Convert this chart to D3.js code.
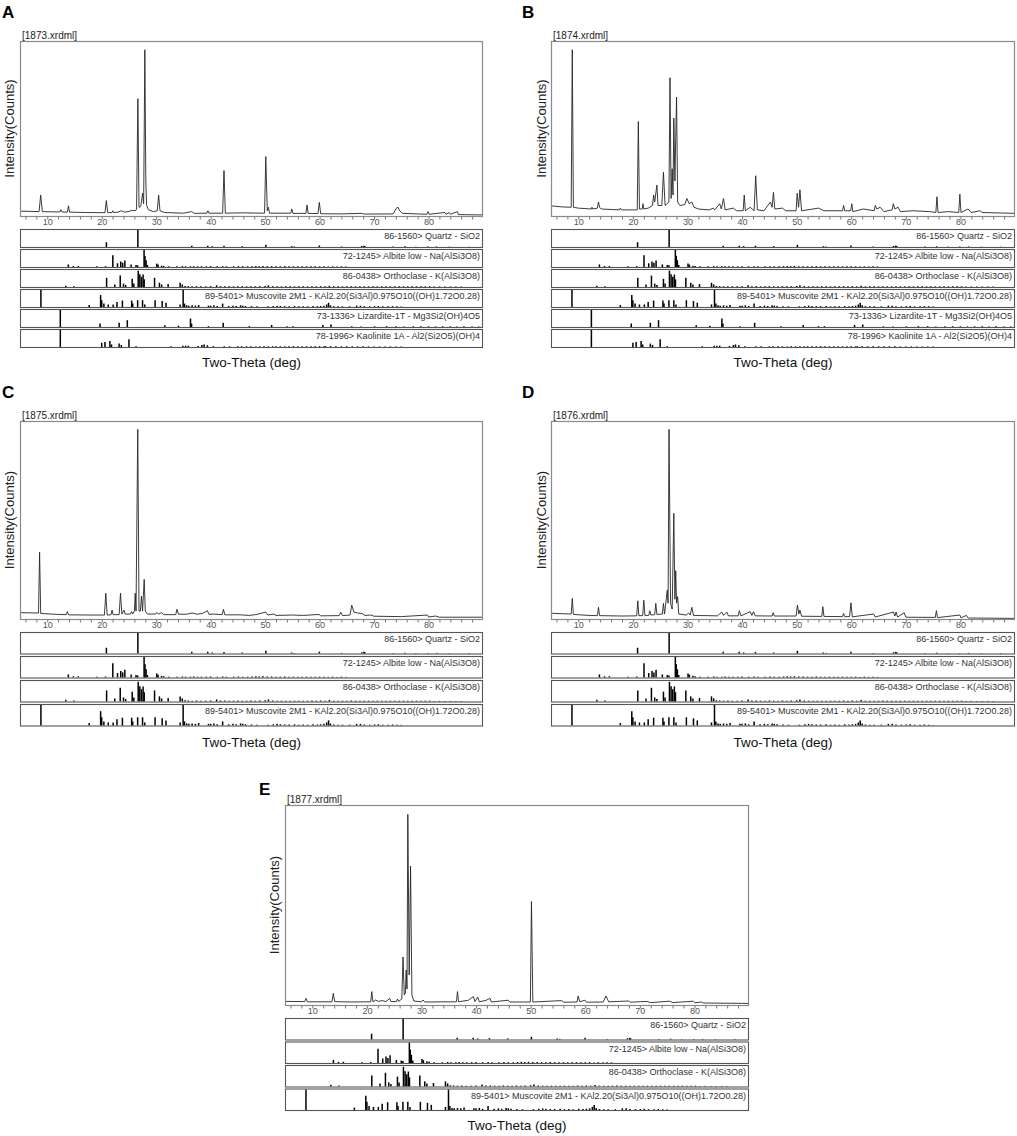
<!DOCTYPE html>
<html><head><meta charset="utf-8">
<script src="https://cdn.jsdelivr.net/npm/d3@7"></script>
<style>
body{margin:0;background:#fff}
svg text{font-family:"Liberation Sans",Arial,sans-serif}
</style>
</head><body>
<svg id="c" width="1017" height="1136"></svg>
<script>
// ---------- DATA ----------
const twoThetaDomain = [5, 90];
const twoThetaLabels = [10, 20, 30, 40, 50, 60, 70, 80];
const fileNames = ["[1873.xrdml]", "[1874.xrdml]", "[1875.xrdml]", "[1876.xrdml]", "[1877.xrdml]"];
const panelLetters = ["A", "B", "C", "D", "E"];
const xTitle = "Two-Theta (deg)";
const yTitle = "Intensity(Counts)";

const phaseLabels = {
  quartz: "86-1560> Quartz - SiO2",
  albite: "72-1245> Albite low - Na(AlSi3O8)",
  orthoclase: "86-0438> Orthoclase - K(AlSi3O8)",
  muscovite: "89-5401> Muscovite 2M1 - KAl2.20(Si3Al)0.975O10((OH)1.72O0.28)",
  lizardite: "73-1336> Lizardite-1T - Mg3Si2(OH)4O5",
  kaolinite: "78-1996> Kaolinite 1A - Al2(Si2O5)(OH)4"
};

// measured patterns: [2theta, relative intensity %]
const pattern1873 = [[5,2.8],[8.5,2.5],[8.8,12],[9.1,2.5],[12.3,2.3],[12.5,3.6],[12.7,2.3],[13.7,2.2],[13.9,5.8],[14.1,2.2],[17,2],[20.6,1.9],[20.85,8.8],[21.1,1.9],[21.9,2],[22.05,3],[22.2,2],[23,2.2],[23.6,3],[24.2,2.2],[25,2.6],[25.5,3.2],[26.2,3],[26.4,4],[26.64,67],[26.85,5],[27.0,5],[27.2,6],[27.5,13],[27.7,7],[27.92,95],[28.1,20],[28.25,6],[28.6,3.5],[29.5,2.5],[30.2,3],[30.45,12],[30.7,3],[31.5,2],[35,1.6],[36.5,2.5],[37,1.5],[39.3,1.6],[39.5,3],[39.7,1.6],[42.2,1.6],[42.45,26],[42.7,1.6],[45.8,1.8],[49.9,1.6],[50.12,34],[50.4,3],[50.6,5],[50.8,1.6],[54.7,1.6],[54.9,4],[55.1,1.5],[57.5,1.5],[57.7,6.3],[57.9,1.5],[59.7,1.4],[59.95,7.8],[60.2,1.3],[64,1.2],[67.7,1.5],[68.2,1.1],[73.5,1.2],[74.1,4.5],[74.4,5],[74.7,3],[75.2,1.5],[79.7,1],[79.9,2.5],[80.1,1],[83,2],[83.2,1],[83.8,2],[84,1],[85.3,2.5],[85.5,0.8],[90,0.6]];
const pattern1874 = [[5,5.8],[7,5.2],[8.7,5],[8.9,95],[9.1,5],[10,4.5],[12.4,4],[12.5,5],[12.6,4],[13.5,4.5],[13.7,8],[13.9,5],[14.2,4],[17.5,3.5],[17.7,4.5],[17.9,3.5],[20.8,3.5],[21.0,54],[21.2,4],[21.7,4],[21.85,7],[22,4],[22.8,4.5],[23.6,6],[23.8,12],[24.0,8],[24.4,17.7],[24.6,6],[25.3,6],[25.6,25],[25.9,6],[26.6,8],[26.8,79],[27.0,10],[27.2,27],[27.35,12],[27.5,56],[27.7,20],[27.85,45],[28.0,68],[28.2,8],[28.6,6],[29.5,6.5],[29.9,10],[30.3,7],[30.8,8],[31.2,5],[32,4],[34,3.5],[34.7,4.5],[35,3.5],[35.9,7],[36.2,4],[36.6,10],[36.9,3.5],[38.4,4.5],[39,3],[40.2,3],[40.4,12],[40.6,3],[41.5,5],[42.2,3],[42.5,23],[42.8,3.5],[44,3],[45.2,8],[45.5,5],[45.75,13.5],[46.0,4],[47.4,4.5],[48,3],[49.9,3],[50.1,13],[50.35,5],[50.6,15],[50.9,3],[53,4],[54,4.5],[55,3],[58.4,3],[58.6,6],[58.8,3],[59.9,3],[60.1,7],[60.3,2.5],[62.2,4],[64.2,3],[64.4,6],[64.7,4],[65.3,5],[66,2.5],[67.5,3.5],[67.7,7],[68,4],[68.6,5],[69,2.5],[71.3,3],[74.4,2.5],[75.5,2],[75.7,11],[75.9,2],[77.8,2.5],[79.7,2],[79.9,12.5],[80.1,2],[81.4,4],[82,2],[83.6,3],[84,2],[90,1.5]];
const pattern1875 = [[5,3.2],[8.4,3],[8.6,33.7],[8.8,2.8],[12,2.3],[13.5,2.2],[13.7,3.7],[13.9,2.1],[18,2],[20.5,2],[20.75,13],[21,2],[21.7,2.1],[21.9,4.5],[22.1,2.2],[23.2,2.2],[23.45,13],[23.7,2.5],[24.1,4.5],[24.3,2.5],[25.3,2.5],[25.5,3.8],[25.7,2.6],[26.0,4],[26.15,13],[26.3,4],[26.62,95.8],[26.85,4],[27.1,4],[27.3,11.6],[27.5,4],[27.8,20],[28.0,4],[28.4,2.5],[29.9,2.5],[30.1,3.3],[30.4,2.5],[31,3.2],[31.4,2.2],[33.6,2.2],[33.8,4.9],[34.1,2.4],[35.5,2.4],[36.6,3],[37.5,2.4],[38.5,2.8],[39.4,4.2],[39.7,2.3],[40.5,2.5],[42.1,2.2],[42.35,4.9],[42.6,2.1],[45.5,2.1],[47,1.8],[48.3,2.2],[50.1,3.5],[50.5,2],[51.6,2.5],[52,1.8],[55,2],[57,1.8],[59.9,2.3],[60.2,1.6],[63.6,1.7],[63.9,3.4],[64.2,1.7],[65.6,2],[65.9,7],[66.3,3.5],[67,3],[67.8,2.8],[68.3,1.8],[69.4,2],[70,1.4],[75,1.2],[79.8,2],[80,1],[81.3,1.5],[82,0.9],[90,0.9]];
const pattern1876 = [[5,2.9],[8.7,2.5],[8.9,10.4],[9.1,2.3],[12,1.8],[13.5,1.7],[13.7,5.9],[13.9,1.7],[18,1.5],[20.7,1.6],[20.9,9.2],[21.1,1.7],[21.8,1.7],[22.0,9.5],[22.2,1.8],[22.9,1.8],[23.1,4.2],[23.3,2],[24.0,2.2],[24.2,7.9],[24.4,2.3],[25.4,2.5],[25.6,7.9],[25.8,2.5],[26.3,14.6],[26.45,8],[26.62,95.8],[26.9,8],[27.2,5],[27.5,53.4],[27.7,10],[27.85,24.4],[28.0,8],[28.2,11.3],[28.4,2.5],[29.8,2],[30.2,3],[30.5,2],[30.8,5.9],[31.1,1.8],[35.5,1.6],[36.3,3.5],[36.6,1.8],[37.2,3.5],[37.5,1.6],[39.3,1.6],[39.5,4.2],[39.8,1.6],[41.5,3.7],[41.8,1.8],[42.1,3.7],[42.4,1.6],[45.5,1.5],[45.7,3.2],[45.9,1.5],[49.9,1.5],[50.15,7],[50.4,2.5],[50.6,4.5],[50.9,1.4],[54.6,1.3],[54.8,6.2],[55.0,1.3],[58.4,1.2],[58.6,2.8],[58.8,1.2],[59.7,1.2],[59.95,8.2],[60.2,1.1],[64.1,2.5],[64.4,1],[67.7,3.5],[68.0,1.5],[68.2,3.5],[68.5,1],[69.7,3.2],[70,0.9],[75.4,0.8],[75.6,4.2],[75.8,0.7],[79.9,2],[80.1,0.6],[81.1,1.8],[81.4,0.5],[90,0.3]];
const pattern1877 = [[5,1.8],[8.6,1.7],[8.85,3.3],[9.1,1.6],[13.6,1.6],[13.85,5.8],[14.1,1.7],[17,1.5],[20.7,1.6],[20.9,6.7],[21.1,1.6],[21.6,2.5],[22.1,1.8],[22.8,2.2],[23.5,1.7],[24.2,3.3],[24.4,1.7],[25.4,1.7],[25.6,3],[25.8,1.8],[26.4,3],[26.62,24],[26.85,5],[27.05,6],[27.2,17.5],[27.35,8],[27.5,95.3],[27.75,15],[28.0,69.5],[28.25,5],[28.6,2],[30,1.6],[30.3,2.5],[30.6,1.5],[36.4,1.6],[36.6,6.7],[36.8,1.6],[38.6,2.4],[39.5,4.2],[39.8,1.7],[40.3,4],[40.6,1.6],[41.8,2.3],[42.55,3.3],[42.8,1.5],[45.9,2.4],[46.2,1.5],[49.95,1.5],[50.15,51.7],[50.4,1.5],[55.7,2.2],[56,1.4],[58.5,1.5],[58.7,4.5],[59,1.6],[59.95,2.4],[60.2,1.4],[63.3,1.5],[63.8,4.5],[64.3,1.6],[67.9,2],[68.3,1.4],[71.3,1.8],[72,1.2],[75.5,1.9],[76,1.2],[79.8,1.9],[80.1,1.1],[81.3,1.5],[81.6,1],[90,0.8]];

// reference stick patterns: [2theta, relative intensity %]
const quartzSticks = [[20.86,28],[26.64,100],[36.54,8],[39.47,8],[40.29,5],[42.45,7],[45.79,5],[50.14,13],[54.87,5],[55.33,3],[59.96,9],[64.03,3],[67.74,6],[68.14,8],[68.31,6],[73.47,3],[75.66,4],[77.67,2],[79.88,3],[81.49,3],[83.84,2],[87.4,2]];
const albiteSticks = [[13.87,15],[14.8,6],[15.7,6],[19.1,4],[20.7,5],[22.04,69],[22.9,22],[23.5,32],[23.85,25],[24.25,38],[25.4,15],[26.3,12],[26.6,10],[27.78,100],[27.95,65],[28.15,40],[28.4,12],[30.1,20],[30.35,14],[31.0,8],[31.4,6],[32.3,4],[33.8,4],[34.8,5],[35.4,4],[36.3,4],[36.9,5],[37.6,4],[38.3,4],[39.2,4],[40.0,5],[41.2,4],[42.2,5],[42.9,4],[44.2,4],[45.1,5],[45.9,4],[46.8,4],[47.6,5],[48.3,6],[48.9,5],[49.6,6],[50.4,5],[51.2,5],[52.0,4],[52.8,4],[53.6,5],[54.4,4],[55.2,4],[56.0,4],[56.8,4],[57.6,4],[58.4,4],[59.2,4],[60.0,4],[60.8,4],[61.6,3],[62.4,4],[63.2,3],[64.0,4],[64.8,3]];
const orthoclaseSticks = [[13.4,8],[14.9,5],[20.9,54],[22.4,15],[23.4,67],[24.0,20],[24.4,12],[25.6,48],[25.9,20],[26.7,96],[27.0,75],[27.3,60],[27.6,73],[27.8,45],[29.7,54],[30.6,25],[31.0,15],[32.2,17],[34.4,25],[34.8,15],[35.3,6],[35.9,5],[36.6,4],[37.4,5],[38.2,4],[39.1,4],[40.0,5],[41.1,10],[41.8,5],[42.6,5],[43.4,4],[44.2,4],[45.0,5],[45.8,4],[46.6,4],[47.4,5],[48.2,4],[49.0,5],[50.0,6],[50.6,10],[51.4,5],[52.2,4],[53.0,4],[53.8,4],[54.6,4],[55.4,4],[56.2,4],[57.0,4],[57.8,4],[58.6,5],[59.4,4],[60.2,5],[61.0,4],[61.8,7],[62.6,4],[63.4,4],[64.2,4],[65.0,4],[65.8,5],[66.6,4],[67.4,4],[68.2,4],[69.0,4],[69.8,4],[70.6,4],[71.4,4],[72.2,4],[73.0,4],[73.8,4],[74.6,4],[75.4,4],[76.2,4],[77.0,4],[77.8,4],[78.6,4],[79.4,4],[80.2,4],[81.0,3],[82.0,3],[83.0,3],[84.0,3],[85.0,3],[86.0,3]];
const muscoviteSticks = [[8.84,100],[17.7,12],[19.8,70],[20.0,40],[20.4,20],[21.2,15],[22.1,15],[22.8,30],[23.8,38],[25.5,38],[25.7,20],[26.6,40],[27.5,40],[27.9,15],[29.8,40],[31.1,35],[31.8,25],[34.4,15],[34.95,100],[35.2,20],[35.6,10],[36.0,8],[36.6,10],[37.2,8],[37.8,12],[39.6,8],[40.0,8],[40.6,10],[41.2,6],[42.2,20],[43.3,6],[44.1,8],[44.7,6],[45.5,10],[45.9,8],[46.4,6],[47.5,5],[48.5,4],[50.5,4],[51.5,6],[52.2,8],[52.8,6],[53.6,5],[54.4,5],[55.4,6],[56.2,4],[57.0,5],[57.8,4],[58.8,6],[59.6,5],[60.2,6],[60.8,8],[61.3,15],[61.65,25],[62.0,10],[62.6,5],[63.4,4],[64.2,4],[65.5,4],[66.8,8],[67.5,8],[68.2,5],[69.2,4],[70.1,5],[70.8,6],[71.6,4],[72.6,4],[73.4,5],[74.2,4],[75.0,3]];
const lizarditeSticks = [[12.4,100],[19.7,20],[23.2,25],[24.7,40],[31.6,10],[34.1,8],[36.3,50],[36.5,20],[39.6,5],[42.3,25],[47.1,5],[51.2,12],[54.0,5],[55.1,5],[60.6,12],[62.1,15],[65.9,4],[67.6,3],[70.1,4],[72.3,5],[74.0,5],[75.5,3],[77.2,4],[78.6,4],[80.0,4],[81.3,3],[82.6,4],[84.0,4],[85.2,3],[86.5,4],[88.0,3],[89.2,3]];
const kaoliniteSticks = [[12.4,100],[20.0,25],[20.6,30],[21.5,35],[21.8,15],[23.2,20],[23.6,12],[25.0,45],[26.3,5],[32.7,5],[34.9,8],[35.4,8],[35.9,8],[37.7,6],[38.4,12],[38.8,15],[39.4,10],[40.5,5],[42.5,4],[43.5,4],[45.0,4],[45.7,4],[46.6,4],[47.4,4],[48.3,3],[49.0,4],[49.8,4],[50.6,4],[51.4,4],[52.0,4],[52.8,4],[53.6,4],[54.4,5],[55.2,5],[56.0,4],[56.8,4],[57.6,4],[58.4,4],[59.2,4],[60.0,5],[60.8,4],[61.1,5],[62.0,5],[63.0,4],[64.0,4],[65.0,4],[66.0,4],[67.0,4],[68.0,4],[69.0,3],[70.0,3],[71.0,3],[72.0,3],[73.0,3],[74.0,3],[75.0,3]];

const stickSets = {quartz: quartzSticks, albite: albiteSticks, orthoclase: orthoclaseSticks,
  muscovite: muscoviteSticks, lizardite: lizarditeSticks, kaolinite: kaoliniteSticks};
const phasesSix = ["quartz","albite","orthoclase","muscovite","lizardite","kaolinite"];
const phasesFour = ["quartz","albite","orthoclase","muscovite"];
const patterns = [pattern1873, pattern1874, pattern1875, pattern1876, pattern1877];
const panelPhases = [phasesSix, phasesSix, phasesFour, phasesFour, phasesFour];

// ---------- LAYOUT ----------
const layout = [
  {x0:20, x1:483, top:41, bottom:216, strip0:229, pitch:20, stripH:18, titleY:367, letterX:2, letterY:18, yLabX:14},
  {x0:551, x1:1015, top:41, bottom:216, strip0:229, pitch:20, stripH:18, titleY:367, letterX:522, letterY:18, yLabX:546},
  {x0:20, x1:483, top:421, bottom:619, strip0:632, pitch:24, stripH:21.5, titleY:747, letterX:2, letterY:398, yLabX:14},
  {x0:551, x1:1015, top:421, bottom:619, strip0:632, pitch:24, stripH:21.5, titleY:747, letterX:522, letterY:398, yLabX:546},
  {x0:285, x1:749, top:805, bottom:1005, strip0:1018, pitch:23.5, stripH:21.5, titleY:1130, letterX:259, letterY:795, yLabX:279}
];

const svg = d3.select("#c");

layout.forEach((p, k) => {
  const g = svg.append("g");
  const x = d3.scaleLinear().domain(twoThetaDomain).range([p.x0, p.x1]);
  const y = d3.scaleLinear().domain([0, 100]).range([p.bottom, p.top]);

  g.append("text").attr("x", p.letterX).attr("y", p.letterY)
    .attr("font-size", 17).attr("font-weight", "bold").attr("fill", "#000").text(panelLetters[k]);
  g.append("text").attr("x", p.x0 + 2).attr("y", p.top - 2)
    .attr("font-size", 10).attr("fill", "#222").text(fileNames[k]);

  g.append("path").datum(patterns[k])
    .attr("d", d3.line().x(d => x(d[0])).y(d => y(d[1])))
    .attr("fill", "none").attr("stroke", "#262626").attr("stroke-width", 0.9)
    .attr("stroke-linejoin", "round");

  g.append("rect").attr("x", p.x0 + 0.5).attr("y", p.top + 0.5)
    .attr("width", p.x1 - p.x0 - 1).attr("height", p.bottom - p.top)
    .attr("fill", "none").attr("stroke", "#8a8a8a").attr("stroke-width", 1.2);

  const minor = d3.range(6, 90, 2);
  const axis = d3.axisBottom(x).tickValues(minor).tickSize(3).tickSizeOuter(0)
    .tickFormat(d => twoThetaLabels.includes(d) ? d : "");
  const ag = g.append("g").attr("transform", `translate(0,${p.bottom + 0.5})`).call(axis);
  ag.select(".domain").remove();
  ag.selectAll(".tick line").attr("stroke", "#777");
  ag.selectAll(".tick text").attr("font-size", 9).attr("fill", "#555")
    .attr("font-family", '"Liberation Sans",Arial,sans-serif').attr("dy", "0.55em").attr("y", 4);

  g.append("text").attr("transform", `translate(${p.yLabX},${(p.top + p.bottom) / 2}) rotate(-90)`)
    .attr("text-anchor", "middle").attr("font-size", 13).attr("fill", "#222").text(yTitle);

  panelPhases[k].forEach((ph, i) => {
    const t = p.strip0 + i * p.pitch;
    const ys = d3.scaleLinear().domain([0, 100]).range([t + p.stripH, t + 1]);
    const sg = g.append("g");
    sg.selectAll("line").data(stickSets[ph]).join("line")
      .attr("x1", d => x(d[0])).attr("x2", d => x(d[0]))
      .attr("y1", ys(0)).attr("y2", d => ys(d[1]))
      .attr("stroke", "#000").attr("stroke-width", 1.5);
    sg.append("rect").attr("x", p.x0 + 0.5).attr("y", t + 0.5)
      .attr("width", p.x1 - p.x0 - 1).attr("height", p.stripH)
      .attr("fill", "none").attr("stroke", "#555").attr("stroke-width", 1.1);
    sg.append("text").attr("x", p.x1 - 3).attr("y", t + 10)
      .attr("text-anchor", "end").attr("font-size", 9).attr("fill", "#333").text(phaseLabels[ph]);
  });

  g.append("text").attr("x", (p.x0 + p.x1) / 2).attr("y", p.titleY)
    .attr("text-anchor", "middle").attr("font-size", 13.5).attr("fill", "#111").text(xTitle);
});
</script>
</body></html>
